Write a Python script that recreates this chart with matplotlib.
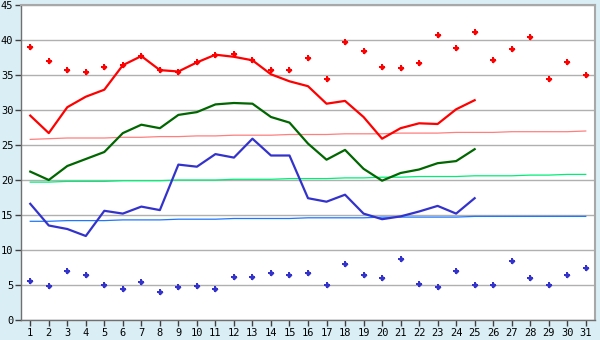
import matplotlib
matplotlib.use('Agg')
import matplotlib.pyplot as plt
import numpy as np

days = list(range(1, 32))

t_max = [29.2, 26.7, 30.4, 31.9, 32.9, 36.4, 37.7, 35.7, 35.5, 36.8,
         37.9, 37.6, 37.1, 35.1, 34.1, 33.4, 30.9, 31.3, 29.0, 25.9,
         27.4, 28.1, 28.0, 30.1, 31.4]
t_mean = [21.2, 20.0, 22.0, 23.0, 24.0, 26.7, 27.9, 27.4, 29.3, 29.7,
          30.8, 31.0, 30.9, 29.0, 28.2, 25.2, 22.9, 24.3, 21.6, 19.9,
          21.0, 21.5, 22.4, 22.7, 24.4]
t_min = [16.6, 13.5, 13.0, 12.0, 15.6, 15.2, 16.2, 15.7, 22.2, 21.9,
         23.7, 23.2, 25.9, 23.5, 23.5, 17.4, 16.9, 17.9, 15.2, 14.4,
         14.8, 15.5, 16.3, 15.2, 17.4]

norm_max = [25.8, 25.9, 26.0, 26.0, 26.0, 26.1, 26.1, 26.2, 26.2, 26.3,
            26.3, 26.4, 26.4, 26.4, 26.5, 26.5, 26.5, 26.6, 26.6, 26.6,
            26.7, 26.7, 26.7, 26.8, 26.8, 26.8, 26.9, 26.9, 26.9, 26.9, 27.0]
norm_mean = [19.7, 19.7, 19.8, 19.8, 19.8, 19.9, 19.9, 19.9, 20.0, 20.0,
             20.0, 20.1, 20.1, 20.1, 20.2, 20.2, 20.2, 20.3, 20.3, 20.4,
             20.4, 20.5, 20.5, 20.5, 20.6, 20.6, 20.6, 20.7, 20.7, 20.8, 20.8]
norm_min = [14.1, 14.1, 14.2, 14.2, 14.2, 14.3, 14.3, 14.3, 14.4, 14.4,
            14.4, 14.5, 14.5, 14.5, 14.5, 14.6, 14.6, 14.6, 14.6, 14.7,
            14.7, 14.7, 14.7, 14.7, 14.8, 14.8, 14.8, 14.8, 14.8, 14.8, 14.8]

rec_max = [39.0, 37.0, 35.7, 35.4, 36.1, 36.4, 37.7, 35.7, 35.4, 36.9,
           37.8, 38.0, 37.1, 35.7, 35.7, 37.4, 34.5, 39.7, 38.4, 36.1,
           36.0, 36.7, 40.7, 38.8, 41.1, 37.2, 38.7, 40.4, 34.4, 36.8, 35.0]
rec_min = [5.6, 4.8, 7.0, 6.5, 5.0, 4.4, 5.4, 4.0, 4.7, 4.8,
           4.4, 6.2, 6.2, 6.7, 6.5, 6.7, 5.0, 8.0, 6.4, 6.0,
           8.7, 5.1, 4.7, 7.0, 5.0, 5.0, 8.5, 6.0, 5.0, 6.4, 7.5]

bg = '#daeef5'
fig = plt.figure(figsize=(6, 3.4), dpi=100, facecolor=bg)
ax = fig.add_axes([21 / 600, 20 / 340, 574 / 600, 315 / 340])
ax.set_facecolor('white')

d25 = days[:len(t_max)]

ax.plot(days, norm_max, color='#ff7f7f', lw=0.9, zorder=3)
ax.plot(days, norm_mean, color='#00ee77', lw=0.9, zorder=3)
ax.plot(days, norm_min, color='#1e78ff', lw=0.9, zorder=3)

ax.plot(d25, t_max, color='#ff0000', lw=1.6, zorder=4)
ax.plot(d25, t_mean, color='#006600', lw=1.6, zorder=4)
ax.plot(d25, t_min, color='#3333cc', lw=1.6, zorder=4)

# record points: small filled cross + diamond core
for rec, c in [(rec_max, '#ff0000'), (rec_min, '#3333cc')]:
    ax.plot(days, rec, ls='none', marker='P', ms=4.5, color=c, mew=0, zorder=5)
    ax.plot(days, rec, ls='none', marker='D', ms=3, color=c, mew=0, zorder=5)

ax.set_xlim(0.5, 31.5)
ax.set_ylim(0, 45)
ax.set_xticks(days)
ax.set_yticks(np.arange(0, 46, 5))
ax.yaxis.grid(True, color='#b0b0b0', lw=1)
ax.set_axisbelow(True)

for s in ['top', 'right']:
    ax.spines[s].set_color('#a8a8a8')
    ax.spines[s].set_linewidth(1.5)
for s in ['left', 'bottom']:
    ax.spines[s].set_color('#707070')
    ax.spines[s].set_linewidth(1)

ax.tick_params(axis='both', color='#404040', length=4, width=1,
               labelsize=7.5, labelcolor='black', pad=1.5)
for lab in ax.get_xticklabels() + ax.get_yticklabels():
    lab.set_family('DejaVu Sans Mono')

fig.savefig('out.png', dpi=100, facecolor=bg)
